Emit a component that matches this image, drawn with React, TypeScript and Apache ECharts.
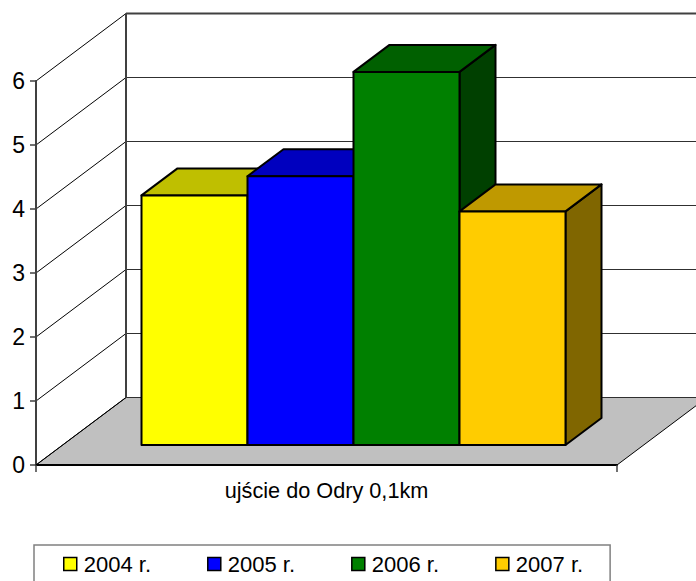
import React, { useEffect, useRef } from "react";
import * as echarts from "echarts";

const categories = ["ujście do Odry 0,1km"];
const seriesNames = ["2004 r.", "2005 r.", "2006 r.", "2007 r."];
const values2004 = [3.9];
const values2005 = [4.2];
const values2006 = [5.83];
const values2007 = [3.65];
const seriesValues = [values2004, values2005, values2006, values2007];
const frontColors = ["#FFFF00", "#0000FF", "#008000", "#FFCC00"];
const topColors = ["#BFBF00", "#0000BF", "#006000", "#BF9900"];
const sideColors = ["#808000", "#000080", "#004000", "#806600"];
const wallTicks = [0, 1, 2, 3, 4, 5, 6];

const FONT = '"Liberation Sans", Arial, sans-serif';
const WALL_DX = 90;
const WALL_DY = 67.5;
const PLANE_DX = 27;
const PLANE_DY = 20;
const BAR_DX = 36;
const BAR_DY = 27;
const BAR_W = 106;

export default function App() {
  const ref = useRef<HTMLDivElement>(null);

  useEffect(() => {
    document.body.style.margin = "0";
    const chart = echarts.init(ref.current!, undefined, { renderer: "svg" });

    const renderFloor = (_p: any, api: any) => {
      const a = api.coord([0, 0]);
      const w = api.size([1, 0])[0];
      const x0 = a[0] - w / 2;
      const y0 = a[1];
      return {
        type: "polygon",
        shape: {
          points: [
            [x0, y0],
            [x0 + WALL_DX, y0 - WALL_DY],
            [x0 + w + WALL_DX, y0 - WALL_DY],
            [x0 + w, y0],
          ],
        },
        style: { fill: "#C0C0C0", stroke: "#000", lineWidth: 1 },
      };
    };

    const renderWall = (_p: any, api: any) => {
      const v = api.value(1);
      const a = api.coord([0, v]);
      const w = api.size([1, 0])[0];
      const x0 = a[0] - w / 2;
      const y = a[1];
      const bx = x0 + WALL_DX;
      const by = y - WALL_DY;
      const top = api.coord([0, 6])[1] - WALL_DY;
      const bottom = api.coord([0, 0])[1] - WALL_DY;
      const children: any[] = [
        {
          type: "line",
          shape: { x1: x0, y1: y, x2: bx, y2: by },
          style: { stroke: "#000", lineWidth: 1 },
        },
        {
          type: "line",
          shape: { x1: bx, y1: by, x2: bx + w, y2: by },
          style: { stroke: v === 6 ? "#404040" : "#303030", lineWidth: v === 6 ? 2 : 1 },
        },
      ];
      if (v === 6) {
        children.push({
          type: "line",
          shape: { x1: bx, y1: top, x2: bx, y2: bottom },
          style: { stroke: "#404040", lineWidth: 2 },
        });
      }
      return { type: "group", children };
    };

    const makeBarRenderer = (i: number) => (_p: any, api: any) => {
      const v = api.value(1);
      const zero = api.coord([0, 0]);
      const topPt = api.coord([0, v]);
      const x0 = zero[0] + PLANE_DX + (i - 2) * BAR_W;
      const x1 = x0 + BAR_W;
      const yb = zero[1] - PLANE_DY;
      const yt = topPt[1] - PLANE_DY;
      const border = { stroke: "#000", lineWidth: 2, lineJoin: "round" };
      return {
        type: "group",
        children: [
          {
            type: "polygon",
            shape: { points: [[x1, yt], [x1 + BAR_DX, yt - BAR_DY], [x1 + BAR_DX, yb - BAR_DY], [x1, yb]] },
            style: { fill: sideColors[i], ...border },
          },
          {
            type: "polygon",
            shape: { points: [[x0, yt], [x0 + BAR_DX, yt - BAR_DY], [x1 + BAR_DX, yt - BAR_DY], [x1, yt]] },
            style: { fill: topColors[i], ...border },
          },
          {
            type: "polygon",
            shape: { points: [[x0, yt], [x1, yt], [x1, yb], [x0, yb]] },
            style: { fill: frontColors[i], ...border },
          },
        ],
      };
    };

    chart.setOption({
      animation: false,
      backgroundColor: "#fff",
      grid: { left: 36, right: 79, top: 81, bottom: 116 },
      xAxis: {
        type: "category",
        data: categories,
        z: 5,
        axisLine: { lineStyle: { color: "#000", width: 2 } },
        axisTick: { show: true, length: 7, lineStyle: { color: "#404040", width: 1.5 } },
        axisLabel: { color: "#000", fontFamily: FONT, fontSize: 21.7, margin: 14 },
        splitLine: { show: false },
      },
      yAxis: {
        type: "value",
        min: 0,
        max: 6,
        interval: 1,
        z: 5,
        axisLine: { show: true, lineStyle: { color: "#404040", width: 2 } },
        axisTick: { show: true, length: 6, lineStyle: { color: "#404040", width: 1.5 } },
        axisLabel: { color: "#000", fontFamily: FONT, fontSize: 23, margin: 11, padding: [0, 0, 4, 0] },
        splitLine: { show: false },
      },
      legend: {
        data: seriesNames,
        left: 34,
        top: 545,
        orient: "horizontal",
        padding: [8, 27, 12, 29],
        backgroundColor: "#fff",
        borderColor: "#808080",
        borderWidth: 1.5,
        borderRadius: 0,
        itemWidth: 13,
        itemHeight: 13,
        itemGap: 56,
        icon: "rect",
        selectedMode: false,
        itemStyle: { borderColor: "#000", borderWidth: 1.5 },
        textStyle: { color: "#000", fontFamily: FONT, fontSize: 22, padding: [0, 0, 0, 2] },
      },
      tooltip: { show: false },
      series: [
        {
          name: "floor",
          type: "custom",
          renderItem: renderFloor,
          data: [[0, 0]],
          encode: { x: 0, y: 1 },
          silent: true,
        },
        {
          name: "wall",
          type: "custom",
          renderItem: renderWall,
          data: wallTicks.map((t) => [0, t]),
          encode: { x: 0, y: 1 },
          silent: true,
        },
        ...seriesNames.map((name, i) => ({
          name,
          type: "custom",
          renderItem: makeBarRenderer(i),
          itemStyle: { color: frontColors[i] },
          data: seriesValues[i].map((v, k) => [k, v]),
          encode: { x: 0, y: 1 },
          silent: true,
        })),
      ],
    });

    return () => chart.dispose();
  }, []);

  return <div ref={ref} style={{ width: 696, height: 581, overflow: "hidden" }} />;
}
